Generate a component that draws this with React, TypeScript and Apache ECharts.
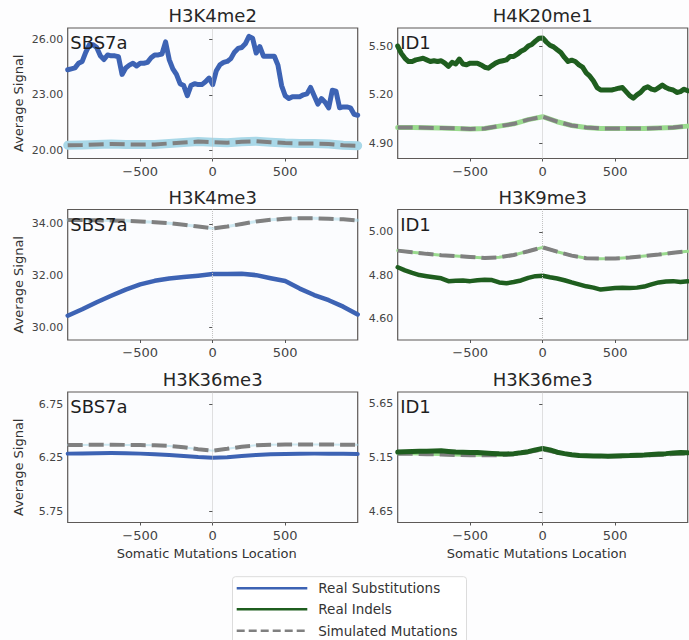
import React, { useEffect, useRef } from "react";
import * as echarts from "echarts";

// ---- positions along the window (bp from mutation) ----
const X_FINE = Array.from({ length: 81 }, (_, i) => -1000 + 25 * i);
const X_MID = Array.from({ length: 41 }, (_, i) => -1000 + 50 * i);
const X_COARSE = Array.from({ length: 21 }, (_, i) => -1000 + 100 * i);

const X_TICKS = [-500, 0, 500];

// ---- H3K4me2 / SBS7a ----
const H3K4ME2_REAL = [
  24.35, 24.4, 24.45, 24.7, 24.8, 25.3, 25.7, 25.7, 25.55, 25.1,
  24.9, 25.15, 25.1, 25.1, 25.05, 24.1, 24.45, 24.6, 24.7, 24.55,
  24.7, 24.7, 24.75, 25.0, 25.15, 25.15, 25.2, 25.85, 24.9, 24.4,
  24.1, 23.6, 23.5, 22.95, 23.5, 23.6, 23.55, 23.55, 23.7, 23.9,
  23.55, 24.3, 24.62, 24.75, 24.8, 24.95, 25.3, 25.5, 25.55, 25.75,
  26.15, 26.05, 25.25, 25.6, 25.08, 25.08, 25.08, 25.08, 24.6, 23.5,
  22.95, 22.8, 22.9, 22.9, 22.9, 23.0, 23.05, 23.4, 22.95, 22.5,
  22.8, 22.6, 22.3, 23.25, 23.2, 22.3, 22.35, 22.35, 22.3, 21.95,
  21.9,
];
const H3K4ME2_SIM = [
  20.28, 20.3, 20.33, 20.35, 20.33, 20.32, 20.33, 20.38, 20.43, 20.48,
  20.45, 20.42, 20.47, 20.5, 20.45, 20.4, 20.38, 20.38, 20.35, 20.28, 20.26,
];

// ---- H4K20me1 / ID1 ----
const H4K20ME1_REAL = [
  5.5, 5.455, 5.425, 5.405, 5.405, 5.415, 5.42, 5.425, 5.415, 5.405,
  5.41, 5.405, 5.41, 5.395, 5.375, 5.4, 5.39, 5.42, 5.39, 5.385,
  5.395, 5.395, 5.395, 5.384, 5.37, 5.364, 5.38, 5.395, 5.405, 5.41,
  5.415, 5.436, 5.436, 5.45, 5.468, 5.479, 5.5, 5.51, 5.53, 5.548,
  5.55, 5.525, 5.505, 5.495, 5.477, 5.46, 5.43, 5.405, 5.413, 5.405,
  5.384, 5.37, 5.335, 5.315, 5.285, 5.245, 5.23, 5.23, 5.23, 5.23,
  5.235, 5.241, 5.245, 5.22, 5.195, 5.18, 5.2, 5.215, 5.24, 5.25,
  5.235, 5.23, 5.245, 5.26, 5.245, 5.235, 5.23, 5.215, 5.22, 5.235,
  5.225,
];
const H4K20ME1_SIM = [
  5.0, 5.0, 4.998, 4.996, 4.994, 4.99, 4.993, 5.008, 5.022, 5.048,
  5.066, 5.035, 5.012, 5.0, 4.994, 4.993, 4.993, 4.993, 4.996, 5.0, 5.008,
];

// ---- H3K4me3 / SBS7a ----
const H3K4ME3_REAL = [
  30.45, 30.7, 30.97, 31.22, 31.46, 31.66, 31.8, 31.89, 31.95, 32.0,
  32.06, 32.06, 32.07, 32.02, 31.9, 31.79, 31.5, 31.25, 31.05, 30.8, 30.5,
];
const H3K4ME3_SIM = [
  34.15, 34.15, 34.14, 34.13, 34.12, 34.1, 34.07, 34.03, 33.97, 33.9,
  33.83, 33.9, 34.0, 34.1, 34.16, 34.2, 34.22, 34.22, 34.2, 34.18, 34.14,
];

// ---- H3K9me3 / ID1 ----
const H3K9ME3_REAL = [
  4.836, 4.822, 4.81, 4.8, 4.795, 4.79, 4.785, 4.772, 4.774, 4.775,
  4.772, 4.776, 4.778, 4.777, 4.766, 4.762, 4.768, 4.775, 4.787, 4.795,
  4.797, 4.79, 4.784, 4.776, 4.766, 4.757, 4.748, 4.742, 4.733, 4.737,
  4.74, 4.741, 4.74, 4.742, 4.747, 4.757, 4.766, 4.77, 4.772, 4.768,
  4.771,
];
const H3K9ME3_SIM = [
  4.913, 4.905, 4.898, 4.892, 4.888, 4.884, 4.879, 4.882, 4.893, 4.91,
  4.928, 4.908, 4.89, 4.878, 4.876, 4.877, 4.881, 4.888, 4.895, 4.903, 4.91,
];

// ---- H3K36me3 / SBS7a ----
const H3K36ME3_SBS_REAL = [
  6.29, 6.292, 6.294, 6.295, 6.293, 6.29, 6.285, 6.277, 6.268, 6.258,
  6.252, 6.257, 6.268, 6.278, 6.284, 6.287, 6.289, 6.29, 6.289, 6.288, 6.287,
];
const H3K36ME3_SBS_SIM = [
  6.37, 6.372, 6.373, 6.373, 6.372, 6.37, 6.368, 6.362, 6.35, 6.332,
  6.318, 6.335, 6.355, 6.368, 6.373, 6.375, 6.375, 6.375, 6.375, 6.374, 6.373,
];

// ---- H3K36me3 / ID1 ----
const H3K36ME3_ID_REAL = [
  5.205, 5.208, 5.21, 5.212, 5.212, 5.214, 5.216, 5.21, 5.205, 5.203,
  5.2, 5.2, 5.196, 5.192, 5.188, 5.186, 5.19, 5.198, 5.208, 5.225,
  5.238, 5.225, 5.203, 5.19, 5.18, 5.173, 5.17, 5.168, 5.167, 5.166,
  5.168, 5.17, 5.172, 5.176, 5.178, 5.182, 5.186, 5.19, 5.197, 5.2,
  5.198,
];
const H3K36ME3_ID_SIM = [
  5.19, 5.188, 5.185, 5.182, 5.178, 5.176, 5.174, 5.175, 5.185, 5.205,
  5.228, 5.2, 5.18, 5.17, 5.166, 5.166, 5.168, 5.172, 5.178, 5.186, 5.192,
];

// ---- y axes ----
const Y_RANGES = [
  [19.57, 26.6], [4.809, 5.611],
  [29.51, 34.56], [4.5, 5.103],
  [5.644, 6.868], [4.552, 5.761],
];
const Y_TICKS = [
  [20, 23, 26], [4.9, 5.2, 5.5],
  [30, 32, 34], [4.6, 4.8, 5.0],
  [5.75, 6.25, 6.75], [4.65, 5.15, 5.65],
];

const TITLES = ["H3K4me2", "H4K20me1", "H3K4me3", "H3K9me3", "H3K36me3", "H3K36me3"];
const TAGS = ["SBS7a", "ID1", "SBS7a", "ID1", "SBS7a", "ID1"];
const LEGEND_NAMES = ["Real Substitutions", "Real Indels", "Simulated Mutations"];

const REAL_DATA = [H3K4ME2_REAL, H4K20ME1_REAL, H3K4ME3_REAL, H3K9ME3_REAL, H3K36ME3_SBS_REAL, H3K36ME3_ID_REAL];
const REAL_X = [X_FINE, X_FINE, X_COARSE, X_MID, X_COARSE, X_MID];
const SIM_DATA = [H3K4ME2_SIM, H4K20ME1_SIM, H3K4ME3_SIM, H3K9ME3_SIM, H3K36ME3_SBS_SIM, H3K36ME3_ID_SIM];

// ---- styling / layout ----
const FONT = "'DejaVu Sans', sans-serif";
const BLUE = "#3D63B4";
const GREEN = "#1F5E1F";
const GRAY = "#808080";
const LEFTS = [67.7, 397.7];
const TOPS = [28, 209.5, 392];
const GW = 290;
const GH = 130.5;
const REAL_WIDTH = [5, 5, 4.5, 4.5, 4, 5];
const BAND_WIDTH = [9, 5, 3, 3, 2, 3];

export default function App() {
  const ref = useRef<HTMLDivElement>(null);

  useEffect(() => {
    if (!ref.current) return;
    const chart = echarts.init(ref.current, null, { renderer: "svg" });

    const grids: any[] = [];
    const xAxes: any[] = [];
    const yAxes: any[] = [];
    const series: any[] = [];
    const graphics: any[] = [];

    for (let i = 0; i < 6; i++) {
      const col = i % 2;
      const row = Math.floor(i / 2);
      const left = LEFTS[col];
      const top = TOPS[row];
      const isSub = col === 0;
      grids.push({
        left, top, width: GW, height: GH,
        show: true, borderColor: "#5d5957", borderWidth: 1.2,
        backgroundColor: "#FBFCFE",
        outerBoundsMode: "none",
        containLabel: false,
      });
      xAxes.push({
        type: "value", gridIndex: i, min: -1000, max: 1000,
        axisLine: { show: false },
        splitLine: { show: false },
        axisTick: { show: true, customValues: X_TICKS, length: 3, lineStyle: { color: "#555" } },
        axisLabel: {
          customValues: X_TICKS, fontSize: 13, color: "#444", fontFamily: FONT, margin: 6,
          formatter: (v: number) => (v < 0 ? "\u2212" + Math.abs(v) : String(v)),
        },
      });
      yAxes.push({
        type: "value", gridIndex: i, min: Y_RANGES[i][0], max: Y_RANGES[i][1],
        axisLine: { show: false },
        splitLine: { show: false },
        axisTick: { show: true, customValues: Y_TICKS[i], length: 3.5, lineStyle: { color: "#555" } },
        axisLabel: {
          customValues: Y_TICKS[i], fontSize: 11, color: "#444", fontFamily: FONT, margin: 4.5,
          formatter: (v: number) => v.toFixed(2),
        },
      });

      const simPts = X_COARSE.map((x, k) => [x, SIM_DATA[i][k]]);
      const realPts = REAL_X[i].map((x, k) => [x, REAL_DATA[i][k]]);

      series.push({
        type: "line", name: "band" + i, xAxisIndex: i, yAxisIndex: i,
        data: simPts, symbol: "none", silent: true, z: 1,
        lineStyle: { color: isSub ? "#A9D8E8" : "#9ADB8E", width: BAND_WIDTH[i], opacity: i === 2 || i === 4 ? 0.55 : 1, cap: "round", join: "round" },
        markLine: {
          silent: true, symbol: ["none", "none"], label: { show: false },
          lineStyle: { color: "#c2c2c2", type: "dotted", width: 1 },
          emphasis: { disabled: true },
          data: [{ xAxis: 0 }],
        },
      });
      series.push({
        type: "line", name: LEGEND_NAMES[2], xAxisIndex: i, yAxisIndex: i,
        data: simPts, symbol: "none", silent: true, z: 2,
        lineStyle: { color: GRAY, width: 4, type: [15, 6] },
      });
      series.push({
        type: "line", name: isSub ? LEGEND_NAMES[0] : LEGEND_NAMES[1], xAxisIndex: i, yAxisIndex: i,
        data: realPts, symbol: "none", silent: true, z: 3,
        lineStyle: { color: isSub ? BLUE : GREEN, width: REAL_WIDTH[i], cap: "round", join: "round" },
      });

      // panel title
      graphics.push({
        type: "text", x: left + GW / 2, y: top - 12.5, silent: true,
        style: {
          text: TITLES[i], fontSize: 18, fontFamily: FONT, fill: "#262626",
          align: "center", verticalAlign: "middle", textAlign: "center", textVerticalAlign: "middle",
        },
      });
      // inset tag
      graphics.push({
        type: "text", x: left + 2.5, y: top + 14.5, silent: true, z: 10,
        style: {
          text: TAGS[i], fontSize: 18, fontFamily: FONT, fill: "#1e1e1e",
          align: "left", verticalAlign: "middle", textAlign: "left", textVerticalAlign: "middle",
        },
      });
      if (col === 0) {
        graphics.push({
          type: "text", x: 18.3, y: top + GH / 2 + 10, rotation: Math.PI / 2, silent: true,
          style: {
            text: "Average Signal", fontSize: 13, fontFamily: FONT, fill: "#333",
            align: "center", verticalAlign: "middle", textAlign: "center", textVerticalAlign: "middle",
          },
        });
      }
      if (row === 2) {
        graphics.push({
          type: "text", x: left + GW / 2 - 6, y: 553, silent: true,
          style: {
            text: "Somatic Mutations Location", fontSize: 13, fontFamily: FONT, fill: "#333",
            align: "center", verticalAlign: "middle", textAlign: "center", textVerticalAlign: "middle",
          },
        });
      }
    }

    // legend box
    const legendTop = 576.7;
    graphics.push({
      type: "rect", silent: true,
      shape: { x: 232.5, y: legendTop, width: 234, height: 80, r: 3 },
      style: { fill: "#ffffff", stroke: "#dcdcdc", lineWidth: 1 },
    });
    const legendYs = [588.3, 609.3, 630.7];
    const legendColors = [BLUE, GREEN, GRAY];
    LEGEND_NAMES.forEach((name, k) => {
      graphics.push({
        type: "line", silent: true,
        shape: { x1: 236.7, y1: legendYs[k], x2: 307.3, y2: legendYs[k] },
        style: { stroke: legendColors[k], lineWidth: 2.5, lineDash: k === 2 ? [8, 4] : null },
      });
      graphics.push({
        type: "text", x: 318.3, y: legendYs[k], silent: true,
        style: {
          text: name, fontSize: 13.5, fontFamily: FONT, fill: "#333",
          align: "left", verticalAlign: "middle", textAlign: "left", textVerticalAlign: "middle",
        },
      });
    });

    chart.setOption({
      animation: false,
      backgroundColor: "#FDFDFE",
      textStyle: { fontFamily: FONT },
      grid: grids,
      xAxis: xAxes,
      yAxis: yAxes,
      series,
      graphic: { elements: graphics },
    });

    return () => chart.dispose();
  }, []);

  return (
    <div
      ref={ref}
      style={{ position: "absolute", left: 0, top: 0, width: 689, height: 640 }}
    />
  );
}
